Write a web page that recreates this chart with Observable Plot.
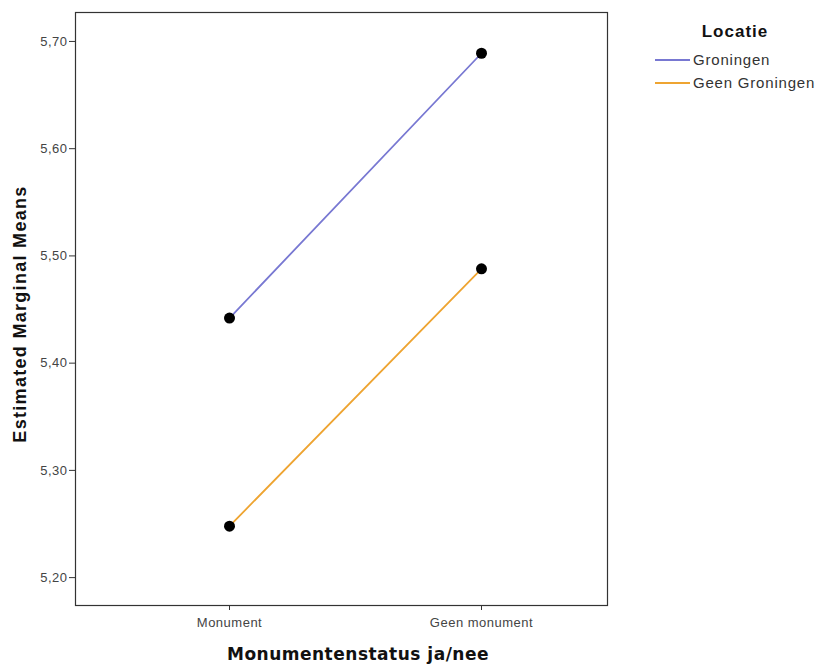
<!DOCTYPE html>
<html>
<head>
<meta charset="utf-8">
<script src="https://cdn.jsdelivr.net/npm/d3@7"></script>
<script src="https://cdn.jsdelivr.net/npm/@observablehq/plot@0.6"></script>
<style>
  html, body { margin: 0; padding: 0; background: #fff; }
  #wrap { position: relative; width: 822px; height: 667px; font-family: "Liberation Sans", Arial, sans-serif; }
  #legend { position: absolute; left: 655px; top: 22px; width: 167px; }
  #legend .title { font-weight: bold; font-size: 17px; letter-spacing: 1px; text-align: center; width: 160px; margin-bottom: 6px; color: #111; line-height: 20px; }
  #legend .item { display: flex; align-items: center; font-size: 15px; letter-spacing: 0.8px; color: #333; height: 23px; white-space: nowrap; }
  #legend .sw { width: 35px; height: 2px; margin-right: 3px; flex: none; }
</style>
</head>
<body>
<div id="wrap"></div>
<script>
const categories = ["Monument", "Geen monument"];
const series = ["Groningen", "Geen Groningen"];
const groningen = [5.442, 5.689];
const geenGroningen = [5.248, 5.488];
const yTicks = [5.20, 5.30, 5.40, 5.50, 5.60, 5.70];
const colors = ["#7878d2", "#eea431"];

const data = [];
categories.forEach((c, i) => {
  data.push({cat: c, loc: series[0], v: groningen[i]});
  data.push({cat: c, loc: series[1], v: geenGroningen[i]});
});

const chart = Plot.plot({
  width: 822,
  height: 667,
  marginTop: 12,
  marginBottom: 62,
  marginLeft: 75,
  marginRight: 215,
  style: {fontFamily: "'Liberation Sans', Arial, sans-serif", fontSize: "13px", color: "#444", background: "#fff", letterSpacing: "0.5px"},
  x: {type: "point", domain: categories, range: [229, 481], padding: 0, label: null},
  y: {domain: [5.174, 5.727], ticks: yTicks, label: null},
  color: {domain: series, range: colors},
  marks: [
    Plot.frame({stroke: "#333", strokeWidth: 1.2}),
    Plot.axisY({ticks: yTicks, tickSize: 6, tickPadding: 2, tickFormat: d => d.toFixed(2).replace(".", ","), fontSize: 13, stroke: "#333"}),
    Plot.axisX({tickSize: 5, tickPadding: 7, fontSize: 13, stroke: "#333"}),
    Plot.line(data, {x: "cat", y: "v", z: "loc", stroke: "loc", strokeWidth: 1.8}),
    Plot.dot(data, {x: "cat", y: "v", r: 5.5, fill: "#000"})
  ]
});

const svg = d3.select(chart);
svg.append("text")
  .attr("transform", "translate(26,314) rotate(-90)")
  .attr("text-anchor", "middle")
  .attr("font-family", "'Liberation Sans', Arial, sans-serif")
  .attr("font-weight", "bold")
  .attr("font-size", 18)
  .attr("letter-spacing", "1.3px")
  .attr("fill", "#111")
  .text("Estimated Marginal Means");
svg.append("text")
  .attr("x", 358)
  .attr("y", 660)
  .attr("text-anchor", "middle")
  .attr("font-family", "'DejaVu Sans', Verdana, sans-serif")
  .attr("font-weight", "bold")
  .attr("font-size", 17)
  .attr("letter-spacing", "0.5px")
  .attr("fill", "#111")
  .text("Monumentenstatus ja/nee");

const wrap = document.getElementById("wrap");
wrap.appendChild(chart);

const legend = document.createElement("div");
legend.id = "legend";
legend.innerHTML = `<div class="title">Locatie</div>` +
  series.map((s, i) => `<div class="item"><span class="sw" style="background:${colors[i]}"></span>${s}</div>`).join("");
wrap.appendChild(legend);
</script>
</body>
</html>
